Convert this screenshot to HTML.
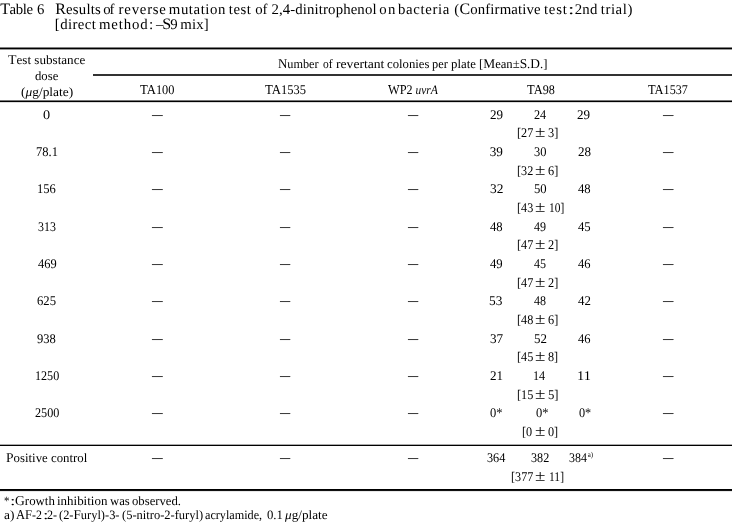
<!DOCTYPE html>
<html lang="en"><head><meta charset="utf-8"><title>Table 6</title>
<style>
html,body{margin:0;padding:0;background:#fff;}
body{width:732px;height:522px;position:relative;overflow:hidden;font-family:"Liberation Serif",serif;color:#000;text-rendering:geometricPrecision;}
.t{position:absolute;white-space:pre;line-height:20px;transform-origin:0 0;}
.r{position:absolute;background:#000;}
sup{font-size:7.6px;line-height:0;vertical-align:4.6px;margin-left:0.8px;}
i{font-style:italic;}
.k{font-size:1.08em;}
.k1{font-size:1.06em;}
.k2{font-size:1.03em;}
</style></head><body>
<span class="t" style="left:0.21px;top:0.00px;font-size:14.8px;letter-spacing:-0.409px;"><span class="k">T</span>able</span>
<span class="t" style="left:36.92px;top:0.00px;font-size:14.8px;transform:scaleX(0.9972);">6</span>
<span class="t" style="left:55.15px;top:0.00px;font-size:14.8px;letter-spacing:0.223px;"><span class="k">R</span>esults</span>
<span class="t" style="left:103.22px;top:0.00px;font-size:14.8px;letter-spacing:-1.060px;">of</span>
<span class="t" style="left:118.62px;top:0.00px;font-size:14.8px;letter-spacing:0.765px;">reverse</span>
<span class="t" style="left:168.81px;top:0.00px;font-size:14.8px;letter-spacing:0.572px;">mutation</span>
<span class="t" style="left:228.79px;top:0.00px;font-size:14.8px;letter-spacing:0.496px;">test</span>
<span class="t" style="left:255.22px;top:0.00px;font-size:14.8px;letter-spacing:-0.160px;">of</span>
<span class="t" style="left:271.44px;top:0.00px;font-size:14.8px;letter-spacing:0.120px;">2,4-dinitrophenol</span>
<span class="t" style="left:379.22px;top:0.00px;font-size:14.8px;letter-spacing:1.480px;">on</span>
<span class="t" style="left:398.03px;top:0.00px;font-size:14.8px;letter-spacing:0.639px;">bacteria</span>
<span class="t" style="left:454.32px;top:0.00px;font-size:14.8px;letter-spacing:0.140px;">(<span class="k">C</span>onfirmative</span>
<span class="t" style="left:543.89px;top:0.00px;font-size:14.8px;letter-spacing:0.830px;">test</span>
<span class="t" style="left:568.14px;top:0.00px;font-size:14.8px;transform:scaleX(1.5520);">:</span>
<span class="t" style="left:574.84px;top:0.00px;font-size:14.8px;letter-spacing:0.145px;">2nd</span>
<span class="t" style="left:600.69px;top:0.00px;font-size:14.8px;letter-spacing:0.583px;">trial)</span>
<span class="t" style="left:54.80px;top:15.00px;font-size:14.8px;letter-spacing:0.413px;">[direct</span>
<span class="t" style="left:99.01px;top:15.00px;font-size:14.8px;letter-spacing:0.837px;">method</span>
<span class="t" style="left:149.30px;top:15.00px;font-size:14.8px;transform:scaleX(1.0347);">:</span>
<span class="t" style="left:155.93px;top:15.00px;font-size:14.8px;letter-spacing:-1.014px;">–<span class="k">S</span>9</span>
<span class="t" style="left:180.21px;top:15.00px;font-size:14.8px;letter-spacing:0.196px;">mix]</span>
<span class="t" style="left:8.16px;top:50.00px;font-size:12.8px;transform:scaleX(1.0245);"><span class="k1">T</span>est substance</span>
<span class="t" style="left:34.53px;top:66.00px;font-size:12.8px;transform:scaleX(0.9944);">dose</span>
<span class="t" style="left:20.70px;top:82.00px;font-size:12.8px;transform:scaleX(1.0482);">(<i>μ</i>g/plate)</span>
<span class="t" style="left:278.28px;top:54.00px;font-size:12.8px;transform:scaleX(0.9556);"><span class="k1">N</span>umber</span>
<span class="t" style="left:323.12px;top:54.00px;font-size:12.8px;transform:scaleX(0.8971);">of</span>
<span class="t" style="left:335.62px;top:54.00px;font-size:12.8px;transform:scaleX(1.0643);">revertant</span>
<span class="t" style="left:387.37px;top:54.00px;font-size:12.8px;transform:scaleX(0.9942);">colonies</span>
<span class="t" style="left:432.43px;top:54.00px;font-size:12.8px;transform:scaleX(0.9670);">per</span>
<span class="t" style="left:451.31px;top:54.00px;font-size:12.8px;transform:scaleX(1.0011);">plate</span>
<span class="t" style="left:478.97px;top:54.00px;font-size:12.8px;transform:scaleX(0.9889);">[<span class="k1">M</span>ean±<span class="k1">S</span>.<span class="k1">D</span>.]</span>
<span class="t" style="left:139.91px;top:80.00px;font-size:13.2px;transform:scaleX(0.9365);"><span class="k2">TA</span>100</span>
<span class="t" style="left:264.91px;top:80.00px;font-size:13.2px;transform:scaleX(0.9440);"><span class="k2">TA</span>1535</span>
<span class="t" style="left:388.38px;top:80.00px;font-size:13.2px;transform:scaleX(0.9109);"><span class="k2">WP</span>2 <i style="font-size:12.5px">uvr<span class="k2">A</span></i></span>
<span class="t" style="left:527.16px;top:80.00px;font-size:13.2px;transform:scaleX(0.9206);"><span class="k2">TA</span>98</span>
<span class="t" style="left:648.42px;top:80.00px;font-size:13.2px;transform:scaleX(0.9168);"><span class="k2">TA</span>1537</span>
<span class="t" style="left:43.24px;top:105.00px;font-size:13.2px;transform:scaleX(1.0810);">0</span>
<span class="t" style="left:151.99px;top:105.00px;font-size:19px;transform:scaleX(0.5644);color:#2c2c2c;">—</span>
<span class="t" style="left:279.99px;top:105.00px;font-size:19px;transform:scaleX(0.5380);color:#2c2c2c;">—</span>
<span class="t" style="left:407.99px;top:105.00px;font-size:19px;transform:scaleX(0.5380);color:#2c2c2c;">—</span>
<span class="t" style="left:663.24px;top:105.00px;font-size:19px;transform:scaleX(0.5512);color:#2c2c2c;">—</span>
<span class="t" style="left:489.74px;top:105.00px;font-size:13.2px;transform:scaleX(0.9915);">29</span>
<span class="t" style="left:533.83px;top:105.00px;font-size:13.2px;transform:scaleX(0.9280);">24</span>
<span class="t" style="left:577.49px;top:105.00px;font-size:13.2px;transform:scaleX(0.9915);">29</span>
<span class="t" style="left:516.67px;top:123.00px;font-size:13.2px;transform:scaleX(0.9271);">[27</span>
<span class="t" style="left:535.40px;top:123.00px;font-size:16px;transform:scaleX(1.1822);">±</span>
<span class="t" style="left:547.78px;top:123.00px;font-size:13.2px;transform:scaleX(0.9419);">3]</span>
<span class="t" style="left:36.11px;top:142.00px;font-size:13.2px;transform:scaleX(0.9500);">78.1</span>
<span class="t" style="left:151.99px;top:142.00px;font-size:19px;transform:scaleX(0.5644);color:#2c2c2c;">—</span>
<span class="t" style="left:279.99px;top:142.00px;font-size:19px;transform:scaleX(0.5380);color:#2c2c2c;">—</span>
<span class="t" style="left:407.99px;top:142.00px;font-size:19px;transform:scaleX(0.5380);color:#2c2c2c;">—</span>
<span class="t" style="left:663.24px;top:142.00px;font-size:19px;transform:scaleX(0.5512);color:#2c2c2c;">—</span>
<span class="t" style="left:489.65px;top:142.00px;font-size:13.2px;">39</span>
<span class="t" style="left:533.73px;top:142.00px;font-size:13.2px;transform:scaleX(0.9451);">30</span>
<span class="t" style="left:577.50px;top:142.00px;font-size:13.2px;transform:scaleX(0.9891);">28</span>
<span class="t" style="left:516.68px;top:161.00px;font-size:13.2px;transform:scaleX(0.9250);">[32</span>
<span class="t" style="left:535.40px;top:161.00px;font-size:16px;transform:scaleX(1.1822);">±</span>
<span class="t" style="left:547.86px;top:161.00px;font-size:13.2px;transform:scaleX(0.9339);">6]</span>
<span class="t" style="left:36.67px;top:179.00px;font-size:13.2px;transform:scaleX(0.9499);">156</span>
<span class="t" style="left:151.99px;top:179.00px;font-size:19px;transform:scaleX(0.5644);color:#2c2c2c;">—</span>
<span class="t" style="left:279.99px;top:179.00px;font-size:19px;transform:scaleX(0.5380);color:#2c2c2c;">—</span>
<span class="t" style="left:407.99px;top:179.00px;font-size:19px;transform:scaleX(0.5380);color:#2c2c2c;">—</span>
<span class="t" style="left:663.24px;top:179.00px;font-size:19px;transform:scaleX(0.5512);color:#2c2c2c;">—</span>
<span class="t" style="left:489.64px;top:179.00px;font-size:13.2px;transform:scaleX(1.0157);">32</span>
<span class="t" style="left:533.55px;top:179.00px;font-size:13.2px;transform:scaleX(0.9592);">50</span>
<span class="t" style="left:577.88px;top:179.00px;font-size:13.2px;transform:scaleX(0.9587);">48</span>
<span class="t" style="left:516.68px;top:198.00px;font-size:13.2px;transform:scaleX(0.9250);">[43</span>
<span class="t" style="left:535.40px;top:198.00px;font-size:16px;transform:scaleX(1.1822);">±</span>
<span class="t" style="left:548.80px;top:198.00px;font-size:13.2px;transform:scaleX(0.8674);">10]</span>
<span class="t" style="left:37.70px;top:217.00px;font-size:13.2px;transform:scaleX(0.9050);">313</span>
<span class="t" style="left:151.99px;top:217.00px;font-size:19px;transform:scaleX(0.5644);color:#2c2c2c;">—</span>
<span class="t" style="left:279.99px;top:217.00px;font-size:19px;transform:scaleX(0.5380);color:#2c2c2c;">—</span>
<span class="t" style="left:407.99px;top:217.00px;font-size:19px;transform:scaleX(0.5380);color:#2c2c2c;">—</span>
<span class="t" style="left:663.24px;top:217.00px;font-size:19px;transform:scaleX(0.5512);color:#2c2c2c;">—</span>
<span class="t" style="left:490.13px;top:217.00px;font-size:13.2px;transform:scaleX(0.9587);">48</span>
<span class="t" style="left:534.19px;top:217.00px;font-size:13.2px;transform:scaleX(0.9130);">49</span>
<span class="t" style="left:577.88px;top:217.00px;font-size:13.2px;transform:scaleX(0.9595);">45</span>
<span class="t" style="left:516.67px;top:235.00px;font-size:13.2px;transform:scaleX(0.9271);">[47</span>
<span class="t" style="left:535.40px;top:235.00px;font-size:16px;transform:scaleX(1.1822);">±</span>
<span class="t" style="left:547.87px;top:235.00px;font-size:13.2px;transform:scaleX(0.9329);">2]</span>
<span class="t" style="left:37.56px;top:254.00px;font-size:13.2px;transform:scaleX(0.9417);">469</span>
<span class="t" style="left:151.99px;top:254.00px;font-size:19px;transform:scaleX(0.5644);color:#2c2c2c;">—</span>
<span class="t" style="left:279.99px;top:254.00px;font-size:19px;transform:scaleX(0.5380);color:#2c2c2c;">—</span>
<span class="t" style="left:407.99px;top:254.00px;font-size:19px;transform:scaleX(0.5380);color:#2c2c2c;">—</span>
<span class="t" style="left:663.24px;top:254.00px;font-size:19px;transform:scaleX(0.5512);color:#2c2c2c;">—</span>
<span class="t" style="left:490.13px;top:254.00px;font-size:13.2px;transform:scaleX(0.9610);">49</span>
<span class="t" style="left:534.19px;top:254.00px;font-size:13.2px;transform:scaleX(0.9115);">45</span>
<span class="t" style="left:577.88px;top:254.00px;font-size:13.2px;transform:scaleX(0.9487);">46</span>
<span class="t" style="left:516.67px;top:273.00px;font-size:13.2px;transform:scaleX(0.9271);">[47</span>
<span class="t" style="left:535.40px;top:273.00px;font-size:16px;transform:scaleX(1.1822);">±</span>
<span class="t" style="left:547.87px;top:273.00px;font-size:13.2px;transform:scaleX(0.9329);">2]</span>
<span class="t" style="left:37.17px;top:291.00px;font-size:13.2px;transform:scaleX(0.9605);">625</span>
<span class="t" style="left:151.99px;top:291.00px;font-size:19px;transform:scaleX(0.5644);color:#2c2c2c;">—</span>
<span class="t" style="left:279.99px;top:291.00px;font-size:19px;transform:scaleX(0.5380);color:#2c2c2c;">—</span>
<span class="t" style="left:407.99px;top:291.00px;font-size:19px;transform:scaleX(0.5380);color:#2c2c2c;">—</span>
<span class="t" style="left:663.24px;top:291.00px;font-size:19px;transform:scaleX(0.5512);color:#2c2c2c;">—</span>
<span class="t" style="left:489.46px;top:291.00px;font-size:13.2px;transform:scaleX(1.0149);">53</span>
<span class="t" style="left:534.19px;top:291.00px;font-size:13.2px;transform:scaleX(0.9108);">48</span>
<span class="t" style="left:577.88px;top:291.00px;font-size:13.2px;transform:scaleX(0.9765);">42</span>
<span class="t" style="left:516.68px;top:310.00px;font-size:13.2px;transform:scaleX(0.9250);">[48</span>
<span class="t" style="left:535.40px;top:310.00px;font-size:16px;transform:scaleX(1.1822);">±</span>
<span class="t" style="left:547.86px;top:310.00px;font-size:13.2px;transform:scaleX(0.9339);">6]</span>
<span class="t" style="left:37.28px;top:329.00px;font-size:13.2px;transform:scaleX(0.9543);">938</span>
<span class="t" style="left:151.99px;top:329.00px;font-size:19px;transform:scaleX(0.5644);color:#2c2c2c;">—</span>
<span class="t" style="left:279.99px;top:329.00px;font-size:19px;transform:scaleX(0.5380);color:#2c2c2c;">—</span>
<span class="t" style="left:407.99px;top:329.00px;font-size:19px;transform:scaleX(0.5380);color:#2c2c2c;">—</span>
<span class="t" style="left:663.24px;top:329.00px;font-size:19px;transform:scaleX(0.5512);color:#2c2c2c;">—</span>
<span class="t" style="left:489.65px;top:329.00px;font-size:13.2px;transform:scaleX(0.9986);">37</span>
<span class="t" style="left:533.54px;top:329.00px;font-size:13.2px;transform:scaleX(0.9796);">52</span>
<span class="t" style="left:577.88px;top:329.00px;font-size:13.2px;transform:scaleX(0.9487);">46</span>
<span class="t" style="left:516.68px;top:347.00px;font-size:13.2px;transform:scaleX(0.9250);">[45</span>
<span class="t" style="left:535.40px;top:347.00px;font-size:16px;transform:scaleX(1.1822);">±</span>
<span class="t" style="left:547.92px;top:347.00px;font-size:13.2px;transform:scaleX(0.9284);">8]</span>
<span class="t" style="left:34.92px;top:366.00px;font-size:13.2px;transform:scaleX(0.9185);">1250</span>
<span class="t" style="left:151.99px;top:366.00px;font-size:19px;transform:scaleX(0.5644);color:#2c2c2c;">—</span>
<span class="t" style="left:279.99px;top:366.00px;font-size:19px;transform:scaleX(0.5380);color:#2c2c2c;">—</span>
<span class="t" style="left:407.99px;top:366.00px;font-size:19px;transform:scaleX(0.5380);color:#2c2c2c;">—</span>
<span class="t" style="left:663.24px;top:366.00px;font-size:19px;transform:scaleX(0.5512);color:#2c2c2c;">—</span>
<span class="t" style="left:490.32px;top:366.00px;font-size:13.2px;transform:scaleX(0.9946);">21</span>
<span class="t" style="left:533.31px;top:366.00px;font-size:13.2px;transform:scaleX(0.9260);">14</span>
<span class="t" style="left:577.34px;top:366.00px;font-size:13.2px;transform:scaleX(1.0921);">11</span>
<span class="t" style="left:516.68px;top:385.00px;font-size:13.2px;transform:scaleX(0.9250);">[15</span>
<span class="t" style="left:535.40px;top:385.00px;font-size:16px;transform:scaleX(1.1822);">±</span>
<span class="t" style="left:547.60px;top:385.00px;font-size:13.2px;transform:scaleX(0.9601);">5]</span>
<span class="t" style="left:34.78px;top:403.00px;font-size:13.2px;transform:scaleX(0.9240);">2500</span>
<span class="t" style="left:151.99px;top:403.00px;font-size:19px;transform:scaleX(0.5644);color:#2c2c2c;">—</span>
<span class="t" style="left:279.99px;top:403.00px;font-size:19px;transform:scaleX(0.5380);color:#2c2c2c;">—</span>
<span class="t" style="left:407.99px;top:403.00px;font-size:19px;transform:scaleX(0.5380);color:#2c2c2c;">—</span>
<span class="t" style="left:663.24px;top:403.00px;font-size:19px;transform:scaleX(0.5512);color:#2c2c2c;">—</span>
<span class="t" style="left:489.62px;top:403.00px;font-size:13.2px;transform:scaleX(0.9497);">0*</span>
<span class="t" style="left:535.87px;top:403.00px;font-size:13.2px;transform:scaleX(0.9497);">0*</span>
<span class="t" style="left:579.13px;top:403.00px;font-size:13.2px;transform:scaleX(0.9286);">0*</span>
<span class="t" style="left:522.47px;top:422.00px;font-size:13.2px;transform:scaleX(0.9265);">[0</span>
<span class="t" style="left:535.40px;top:422.00px;font-size:16px;transform:scaleX(1.1822);">±</span>
<span class="t" style="left:547.93px;top:422.00px;font-size:13.2px;transform:scaleX(0.9274);">0]</span>
<span class="t" style="left:5.99px;top:448.00px;font-size:12.8px;transform:scaleX(1.0019);"><span class="k1">P</span>ositive control</span>
<span class="t" style="left:151.99px;top:448.00px;font-size:19px;transform:scaleX(0.5644);color:#2c2c2c;">—</span>
<span class="t" style="left:279.99px;top:448.00px;font-size:19px;transform:scaleX(0.5380);color:#2c2c2c;">—</span>
<span class="t" style="left:407.99px;top:448.00px;font-size:19px;transform:scaleX(0.5380);color:#2c2c2c;">—</span>
<span class="t" style="left:663.24px;top:448.00px;font-size:19px;transform:scaleX(0.5512);color:#2c2c2c;">—</span>
<span class="t" style="left:486.79px;top:448.00px;font-size:13.2px;transform:scaleX(0.9284);">364</span>
<span class="t" style="left:530.74px;top:448.00px;font-size:13.2px;transform:scaleX(0.9215);">382</span>
<span class="t" style="left:568.75px;top:448.00px;font-size:13.2px;transform:scaleX(0.9060);">384<sup>a)</sup></span>
<span class="t" style="left:510.58px;top:467.00px;font-size:13.2px;transform:scaleX(0.9220);">[377</span>
<span class="t" style="left:535.40px;top:467.00px;font-size:16px;transform:scaleX(1.1822);">±</span>
<span class="t" style="left:548.79px;top:467.00px;font-size:13.2px;transform:scaleX(0.8772);">11]</span>
<span class="t" style="left:4.32px;top:491.00px;font-size:12.8px;transform:scaleX(0.8486);">*</span>
<span class="t" style="left:10.45px;top:491.00px;font-size:12.8px;transform:scaleX(1.5478);">:</span>
<span class="t" style="left:15.10px;top:491.00px;font-size:12.8px;transform:scaleX(1.0052);"><span class="k1">G</span>rowth</span>
<span class="t" style="left:57.11px;top:491.00px;font-size:12.8px;transform:scaleX(1.0120);">inhibition</span>
<span class="t" style="left:110.15px;top:491.00px;font-size:12.8px;transform:scaleX(0.9929);">was</span>
<span class="t" style="left:132.48px;top:491.00px;font-size:12.8px;transform:scaleX(0.9926);">observed.</span>
<span class="t" style="left:3.61px;top:505.00px;font-size:12.8px;transform:scaleX(1.0472);">a)</span>
<span class="t" style="left:16.43px;top:505.00px;font-size:12.8px;transform:scaleX(0.9285);"><span class="k1">AF</span>-2</span>
<span class="t" style="left:43.35px;top:505.00px;font-size:12.8px;transform:scaleX(1.5478);">:</span>
<span class="t" style="left:47.39px;top:505.00px;font-size:12.8px;transform:scaleX(0.9436);">2-</span>
<span class="t" style="left:58.94px;top:505.00px;font-size:12.8px;transform:scaleX(0.9717);">(2-<span class="k1">F</span>uryl)-3-</span>
<span class="t" style="left:122.44px;top:505.00px;font-size:12.8px;transform:scaleX(0.9760);">(5-nitro-2-furyl)</span>
<span class="t" style="left:204.65px;top:505.00px;font-size:12.8px;transform:scaleX(0.9518);">acrylamide,</span>
<span class="t" style="left:267.42px;top:505.00px;font-size:12.8px;transform:scaleX(0.9957);">0.1</span>
<span class="t" style="left:285.40px;top:505.00px;font-size:12.8px;transform:scaleX(1.0324);"><i>μ</i>g/plate</span>
<div class="r" style="left:0px;top:47px;width:732px;height:3px;background:linear-gradient(to bottom,#808080 0px 1px,#000 1px 2px,#999 2px 3px)"></div>
<div class="r" style="left:93px;top:74px;width:639px;height:2px;background:#333"></div>
<div class="r" style="left:0px;top:100px;width:732px;height:3px;background:linear-gradient(to bottom,#777 0px 1px,#000 1px 2px,#ddd 2px 3px)"></div>
<div class="r" style="left:0px;top:444px;width:732px;height:2px;background:linear-gradient(to bottom,#aaa 0px 1px,#000 1px 2px)"></div>
<div class="r" style="left:0px;top:489px;width:732px;height:3px;background:linear-gradient(to bottom,#000 0px 1px,#111 1px 2px,#e8e8e8 2px 3px)"></div>
</body></html>
